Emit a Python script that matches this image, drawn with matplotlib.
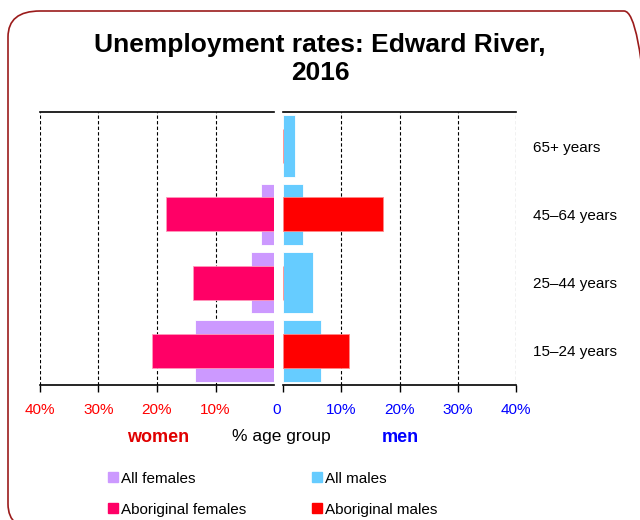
import matplotlib
matplotlib.use("Agg")
import matplotlib.pyplot as plt
import matplotlib.transforms as mtransforms
from matplotlib.patches import FancyBboxPatch, Patch

plt.rcParams['font.family'] = ['Liberation Sans', 'DejaVu Sans']

# data (% unemployed), bottom to top
age_groups = ['15–24 years', '25–44 years', '45–64 years', '65+ years']
all_females = [13.5, 4.0, 2.3, 0.0]
abor_females = [20.8, 13.9, 18.5, 0.0]
all_males = [6.6, 5.1, 3.4, 2.0]
abor_males = [11.4, 0.0, 17.1, 0.0]
ticks = [0, 10, 20, 30, 40]

c_allf = '#CC99FF'
c_abf = '#FF0066'
c_allm = '#66CCFF'
c_abm = '#FF0000'

fig = plt.figure(figsize=(6.4, 5.2), dpi=100)

# rounded frame around the chart (runs off the right and bottom edges)
frame = FancyBboxPatch((8 / 640, -10 / 520), 648 / 640, 519 / 520,
                       boxstyle="round,pad=0,rounding_size=0.05",
                       transform=fig.transFigure, facecolor='none',
                       edgecolor='#9B1B1B', linewidth=1.2, clip_on=False)
fig.patches.append(frame)

ax_l = fig.add_axes([40 / 640, 135 / 520, 234 / 640, 273 / 520])
ax_r = fig.add_axes([283 / 640, 135 / 520, 233 / 640, 273 / 520])

y = range(len(age_groups))
ax_l.barh(y, all_females, height=0.9, color=c_allf, edgecolor='white', linewidth=0.6, zorder=3)
ax_l.barh(y, abor_females, height=0.5, color=c_abf, edgecolor='#FF99BB', linewidth=0.6, zorder=4)
ax_r.barh(y, all_males, height=0.9, color=c_allm, edgecolor='white', linewidth=0.6, zorder=3)
ax_r.barh(y, abor_males, height=0.5, color=c_abm, edgecolor='#FF8888', linewidth=0.6, zorder=4)

for ax in (ax_l, ax_r):
    ax.set_xlim(0, 40)
    ax.set_ylim(-0.5, 3.5)
    ax.spines['left'].set_visible(False)
    ax.spines['right'].set_visible(False)
    ax.spines['top'].set_linewidth(1.2)
    ax.spines['bottom'].set_linewidth(1.2)
    for t in ticks[1:]:
        ax.axvline(t, color='black', linestyle=(0, (3, 2)), linewidth=0.8, zorder=1)
    ax.tick_params(axis='x', length=5, width=1, pad=8, labelsize=11)

ax_l.invert_xaxis()
ax_l.set_xticks(ticks[1:])
ax_l.set_xticklabels([f'{t}%' for t in ticks[1:]], color='#FF0000')
ax_l.set_yticks([])

ax_r.set_xticks(ticks)
ax_r.set_xticklabels(['0'] + [f'{t}%' for t in ticks[1:]], color='#0000FF')
ax_r.set_yticks(list(y))
ax_r.set_yticklabels(age_groups)
ax_r.yaxis.tick_right()
ax_r.tick_params(axis='y', length=0, pad=12, labelsize=11)

# shift the "0" label to sit in the gap between the two halves
zero_lab = ax_r.get_xticklabels()[0]
zero_lab.set_transform(zero_lab.get_transform() +
                       mtransforms.ScaledTranslation(-6 / 100, 0, fig.dpi_scale_trans))

fig.text(0.5, 1 - 59 / 520, 'Unemployment rates: Edward River,\n2016',
         ha='center', va='center', fontsize=19, fontweight='bold', linespacing=1.2)

fig.text(158 / 640, 1 - 437 / 520, 'women', color='#E00000', fontsize=13,
         fontweight='bold', ha='center', va='center')
fig.text(281 / 640, 1 - 437 / 520, '% age group', color='black', fontsize=12.5,
         ha='center', va='center')
fig.text(400 / 640, 1 - 437 / 520, 'men', color='#0000FF', fontsize=13,
         fontweight='bold', ha='center', va='center')

handles = [Patch(color=c_allf, label='All females'),
           Patch(color=c_abf, label='Aboriginal females'),
           Patch(color=c_allm, label='All males'),
           Patch(color=c_abm, label='Aboriginal males')]
fig.legend(handles=handles, ncol=2, loc='upper left',
           bbox_to_anchor=(94 / 640, 1 - 458 / 520), frameon=False,
           fontsize=11, handlelength=0.65, handleheight=0.65,
           handletextpad=0.2, columnspacing=4.3, labelspacing=1.1)

fig.savefig('out.png', dpi=100)
